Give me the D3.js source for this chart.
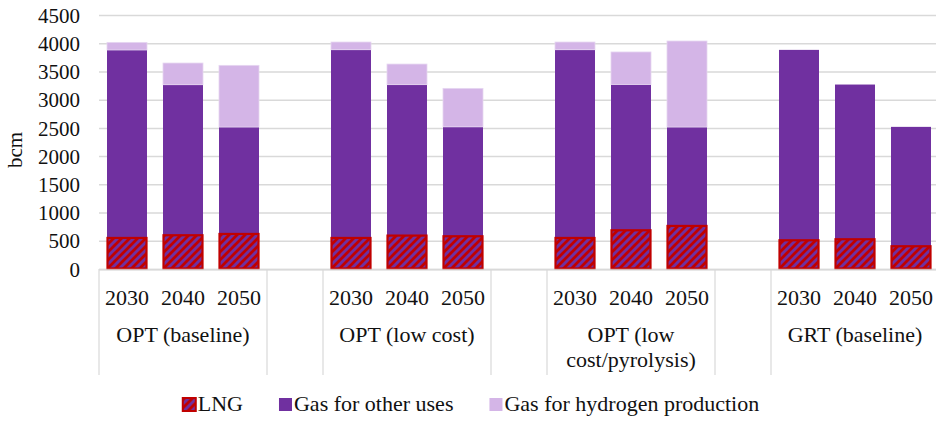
<!DOCTYPE html>
<html>
<head>
<meta charset="utf-8">
<script src="https://cdn.jsdelivr.net/npm/d3@7"></script>
<style>
  body { margin: 0; background: #fff; }
  svg { display: block; font-family: "Liberation Serif", "Times New Roman", serif; }
</style>
</head>
<body>
<svg id="chart" width="936" height="421"></svg>
<script>
// Scenario groups, each shown for three milestone years
const scenarios = ["OPT (baseline)", "OPT (low cost)", "OPT (low cost/pyrolysis)", "GRT (baseline)"];
const scenarioLines = [["OPT (baseline)"], ["OPT (low cost)"], ["OPT (low", "cost/pyrolysis)"], ["GRT (baseline)"]];
const years = ["2030", "2040", "2050"];

// Gas demand, bcm (one entry per scenario/year, in scenario order)
const lng       = [550, 598, 621,   550, 592, 580,   550, 686, 763,   509, 527, 403];
const otherUses = [3880, 3265, 2515, 3885, 3266, 2518, 3885, 3270, 2515, 3882, 3268, 2518];
const hydrogen  = [135, 384, 1093,  136, 365, 682,   136, 575, 1524,  0, 0, 0];

const yTicks = [0, 500, 1000, 1500, 2000, 2500, 3000, 3500, 4000, 4500];
const seriesNames = ["LNG", "Gas for other uses", "Gas for hydrogen production"];

const purple = "#7030A0";
const lilac = "#D4B5E7";
const red = "#C00000";
const gridColor = "#D9D9D9";

const svg = d3.select("#chart");
const W = 936;
const plotLeft = 99, plotTop = 15, plotBottom = 269;

// Category slots: three years per scenario, with an empty slot between scenarios
const slots = [];
const rows = [];
scenarios.forEach((s, i) => {
  years.forEach((yr, j) => {
    const k = i * 3 + j;
    const key = s + "|" + yr;
    slots.push(key);
    rows.push({ key, year: yr, scenario: i, lng: lng[k], other: otherUses[k], hydro: hydrogen[k] });
  });
  if (i < scenarios.length - 1) slots.push("gap" + i);
});

const step = 56;
const x = d3.scaleBand()
  .domain(slots)
  .range([plotLeft, plotLeft + step * slots.length])
  .paddingInner(16 / 56)
  .paddingOuter(8 / 56);

const y = d3.scaleLinear().domain([0, 4500]).range([plotBottom, plotTop]);

// Hatch used for LNG
const defs = svg.append("defs");
const pat = defs.append("pattern")
  .attr("id", "lngHatch")
  .attr("patternUnits", "userSpaceOnUse")
  .attr("width", 8).attr("height", 8);
pat.append("rect").attr("width", 8).attr("height", 8).attr("fill", purple);
pat.append("path")
  .attr("d", "M-2,2 L2,-2 M0,8 L8,0 M6,10 L10,6")
  .attr("stroke", red).attr("stroke-width", 2.8);

// Gridlines and value axis labels
const yAxis = d3.axisLeft(y).tickValues(yTicks).tickSize(0).tickPadding(0).tickFormat(d3.format("d"));
const yg = svg.append("g").attr("transform", `translate(${plotLeft},0)`).call(yAxis);
yg.select(".domain").remove();
yg.selectAll(".tick text")
  .attr("x", -19)
  .attr("dy", "0.34em")
  .attr("font-size", 21)
  .attr("font-family", "Liberation Serif, serif")
  .attr("fill", "#111");
yg.selectAll(".tick").append("line")
  .attr("x1", 0).attr("x2", W - plotLeft)
  .attr("stroke", gridColor).attr("stroke-width", 1.5);

// Axis title
svg.append("text")
  .attr("transform", `translate(22,${(plotTop + plotBottom) / 2 + 8}) rotate(-90)`)
  .attr("text-anchor", "middle")
  .attr("font-size", 21)
  .attr("fill", "#111")
  .text("bcm");

// Bars: other uses from zero, hydrogen stacked on top, LNG overlaid at the base
const bars = svg.append("g");
bars.selectAll("rect.other").data(rows).join("rect")
  .attr("class", "other")
  .attr("x", d => x(d.key))
  .attr("width", x.bandwidth())
  .attr("y", d => y(d.other))
  .attr("height", d => y(0) - y(d.other))
  .attr("fill", purple);

bars.selectAll("rect.hydro").data(rows.filter(d => d.hydro > 0)).join("rect")
  .attr("class", "hydro")
  .attr("x", d => x(d.key))
  .attr("width", x.bandwidth())
  .attr("y", d => y(d.other + d.hydro))
  .attr("height", d => y(d.other) - y(d.other + d.hydro))
  .attr("fill", lilac)
  .attr("stroke", "#E6D6F1").attr("stroke-width", 0.8);

bars.selectAll("rect.lng").data(rows).join("rect")
  .attr("class", "lng")
  .attr("x", d => x(d.key) + 0.5)
  .attr("width", x.bandwidth() - 1)
  .attr("y", d => y(d.lng))
  .attr("height", d => y(0) - y(d.lng) - 0.5)
  .attr("fill", "url(#lngHatch)")
  .attr("stroke", red).attr("stroke-width", 2.2);

// Category axis line
svg.append("line")
  .attr("x1", plotLeft).attr("x2", W)
  .attr("y1", plotBottom + 0.8).attr("y2", plotBottom + 0.8)
  .attr("stroke", gridColor).attr("stroke-opacity", 0.7).attr("stroke-width", 2);

// Group separators at scenario boundaries
const half = (x.step() - x.bandwidth()) / 2;
const bounds = [];
scenarios.forEach((s, i) => {
  bounds.push(x(s + "|" + years[0]) - half);
  bounds.push(x(s + "|" + years[2]) + x.bandwidth() + half);
});
svg.append("g").selectAll("line").data(bounds).join("line")
  .attr("x1", d => d).attr("x2", d => d)
  .attr("y1", plotBottom).attr("y2", 375)
  .attr("stroke", gridColor).attr("stroke-width", 1.2);

// Year labels
svg.append("g").selectAll("text").data(rows).join("text")
  .attr("x", d => x(d.key) + x.bandwidth() / 2)
  .attr("y", 305)
  .attr("text-anchor", "middle")
  .attr("font-size", 22)
  .attr("fill", "#111")
  .text(d => d.year);

// Scenario labels
const sg = svg.append("g");
scenarios.forEach((s, i) => {
  const cx = (x(s + "|" + years[0]) + x(s + "|" + years[2]) + x.bandwidth()) / 2;
  const t = sg.append("text")
    .attr("text-anchor", "middle")
    .attr("font-size", 22)
    .attr("fill", "#111");
  scenarioLines[i].forEach((line, li) => {
    t.append("tspan").attr("x", cx).attr("y", 342 + li * 25).text(line);
  });
});

// Legend
const legend = svg.append("g");
const lgY = 411;
const items = [];
let lx = 0;
seriesNames.forEach((name, i) => {
  const g = legend.append("g").attr("transform", `translate(${lx},0)`);
  const sw = g.append("rect")
    .attr("x", 0).attr("y", lgY - 13).attr("width", 13).attr("height", 13);
  if (i === 0) sw.attr("fill", "url(#lngHatch)").attr("stroke", red).attr("stroke-width", 2);
  else sw.attr("fill", i === 1 ? purple : lilac);
  const txt = g.append("text")
    .attr("x", 15).attr("y", lgY)
    .attr("font-size", 22)
    .attr("fill", "#111")
    .text(name);
  const w = txt.node().getComputedTextLength();
  lx += 15 + w + 36;
});
const totalW = lx - 36;
legend.attr("transform", `translate(${471 - totalW / 2},0)`);
</script>
</body>
</html>
